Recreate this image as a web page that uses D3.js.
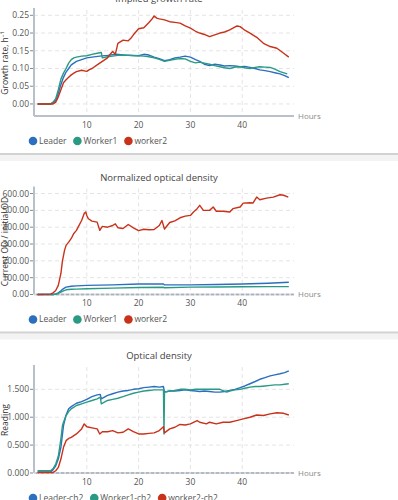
<!DOCTYPE html>
<html>
<head>
<meta charset="utf-8">
<script src="https://cdn.jsdelivr.net/npm/d3@7"></script>
<style>
  body { margin: 0; background: #fff; }
  svg { display: block; font-family: "Open Sans", "Noto Sans", sans-serif; font-weight: 400; }
</style>
</head>
<body>
<svg id="chart" width="398" height="500"></svg>
<script>
// hours / value pairs
var leaderGrowth = [[0.5,0],[3,0],[3.5,0.003],[4,0.01],[4.5,0.03],[5,0.055],[5.5,0.075],[6,0.09],[6.5,0.1],[7,0.11],[8,0.12],[9,0.125],[10,0.13],[11,0.132],[12.5,0.135],[14,0.137],[15.7,0.14],[17,0.138],[19,0.137],[20,0.136],[21,0.14],[22,0.138],[23,0.132],[24,0.128],[25,0.122],[26,0.125],[27,0.13],[28,0.132],[29,0.135],[30,0.132],[31,0.125],[31.8,0.12],[32.7,0.112],[33.7,0.108],[34.7,0.112],[35.7,0.11],[36.6,0.107],[37.6,0.108],[38.6,0.107],[39.6,0.105],[40.5,0.106],[41.5,0.103],[42.5,0.1],[43.4,0.096],[44.4,0.094],[45.4,0.091],[46.3,0.088],[47.3,0.085],[48.2,0.08],[49,0.074]];
var worker1Growth = [[0.5,0],[3,0],[3.5,0.005],[4,0.015],[4.5,0.04],[5,0.07],[5.5,0.087],[6,0.1],[6.5,0.115],[7,0.125],[7.5,0.13],[8,0.132],[9,0.135],[10,0.136],[11,0.14],[12,0.143],[12.8,0.145],[13,0.13],[14,0.133],[15,0.135],[16,0.137],[17,0.138],[18,0.137],[19,0.136],[20,0.136],[21,0.135],[22,0.133],[23,0.13],[24,0.126],[25,0.12],[26,0.123],[27,0.126],[28,0.128],[29,0.127],[30,0.12],[31,0.116],[31.8,0.118],[32.7,0.115],[33.7,0.112],[34.7,0.108],[35.7,0.105],[36.6,0.102],[37.6,0.1],[38.6,0.104],[39.6,0.105],[40.5,0.102],[41.5,0.1],[42.5,0.103],[43.4,0.105],[44.4,0.104],[45.4,0.103],[46.3,0.098],[47.3,0.091],[48.7,0.085]];
var worker2Growth = [[0.5,0],[3.5,0],[4,0.005],[4.5,0.02],[5,0.04],[5.5,0.06],[6,0.068],[6.5,0.075],[7,0.082],[7.5,0.087],[8,0.091],[9,0.095],[10,0.092],[10.5,0.097],[11,0.1],[12,0.11],[13,0.12],[14,0.13],[14.5,0.14],[15,0.148],[15.5,0.14],[16,0.171],[17,0.18],[18,0.178],[18.5,0.185],[19,0.195],[20,0.212],[21,0.215],[22,0.23],[22.5,0.238],[23,0.248],[23.5,0.242],[24,0.24],[25,0.237],[26,0.232],[27,0.23],[28,0.228],[29,0.22],[30,0.214],[31,0.205],[31.8,0.2],[32.7,0.196],[33.7,0.19],[34.7,0.195],[35.7,0.2],[36.6,0.203],[37.6,0.209],[39,0.22],[39.6,0.218],[40.5,0.208],[41.5,0.2],[42.8,0.188],[44.1,0.171],[45.4,0.162],[46.7,0.157],[48,0.143],[49,0.132]];

var leaderNorm = [[0.5,0],[3.5,0],[4,3],[4.5,10],[5,22],[5.5,35],[6,44],[7,49],[8,51],[10,54],[15,57],[20,62],[24.8,63],[25,57],[30,57],[35,59],[40,62],[45,67],[49,73]];
var worker1Norm = [[0.5,0],[3.5,0],[4,2],[4.5,6],[5,14],[5.5,22],[6,28],[7,31],[8,32],[10,34],[15,38],[20,42],[24.8,43],[25,40],[30,44],[35,45],[40,46],[45,47],[49,47]];
var worker2Norm = [[0.5,0],[3,2],[3.5,10],[4,24],[4.5,54],[5,125],[5.3,200],[5.7,262],[6,292],[6.5,311],[7,333],[7.5,363],[8,381],[8.5,411],[9,440],[9.5,482],[9.8,490],[10,470],[10.3,450],[11,436],[12,430],[12.5,381],[13,405],[14,400],[15,410],[15.5,420],[16,397],[17,392],[18,416],[19,396],[20,380],[21,388],[22,385],[23,386],[24,410],[24.5,440],[25,389],[26,428],[27,438],[28,456],[29,466],[30,470],[30.6,490],[31.3,510],[31.8,530],[32.5,500],[33.7,500],[34.4,520],[35,495],[36.3,495],[37.6,490],[38.2,510],[39.6,520],[40.2,543],[41.5,545],[42.1,544],[42.8,579],[43.4,563],[44.7,573],[46,579],[47.3,593],[48,590],[48.9,579]];

var leaderOd = [[0.5,0.02],[3,0.02],[3.5,0.06],[4,0.13],[4.5,0.25],[5,0.46],[5.5,0.85],[6,1.04],[6.5,1.15],[7,1.19],[8,1.25],[9,1.28],[10,1.32],[11,1.37],[12,1.4],[12.6,1.41],[12.8,1.33],[14,1.39],[15,1.42],[16,1.45],[17,1.47],[18,1.48],[19,1.5],[20,1.51],[21,1.53],[22,1.54],[23,1.55],[24,1.54],[24.8,1.55],[25,1.45],[26,1.47],[27,1.47],[28,1.48],[29,1.49],[30,1.48],[31,1.47],[31.8,1.46],[32.7,1.47],[33.7,1.46],[34.7,1.45],[35.7,1.45],[36.6,1.46],[37.6,1.48],[38.6,1.5],[39.6,1.53],[40.5,1.56],[41.5,1.6],[42.5,1.64],[43.4,1.68],[44.4,1.71],[45.4,1.74],[46.3,1.76],[47.3,1.78],[48.2,1.8],[49,1.83]];
var worker1Od = [[0.5,0.04],[3,0.04],[3.5,0.08],[4,0.16],[4.5,0.3],[5,0.61],[5.3,0.85],[5.5,0.91],[6,1.03],[6.5,1.1],[7,1.15],[8,1.21],[9,1.24],[10,1.27],[11,1.3],[12,1.33],[12.6,1.36],[12.8,1.24],[14,1.3],[15,1.32],[16,1.34],[17,1.37],[18,1.4],[19,1.43],[20,1.45],[21,1.47],[22,1.48],[23,1.49],[24,1.49],[24.8,1.49],[24.9,0.7],[25,1.45],[26,1.47],[27,1.48],[28,1.5],[29,1.5],[30,1.49],[31,1.5],[32,1.5],[33.7,1.5],[35.7,1.5],[37,1.45],[37.6,1.47],[38.6,1.49],[39.6,1.5],[40.5,1.52],[41.5,1.54],[42.5,1.55],[43.4,1.55],[44.4,1.56],[45.4,1.57],[46.3,1.58],[47.3,1.58],[48.2,1.59],[49,1.6]];
var worker2Od = [[0.5,0.01],[3.5,0.01],[4,0.04],[4.5,0.1],[5,0.25],[5.5,0.46],[6,0.58],[6.5,0.62],[7,0.64],[8,0.7],[9,0.79],[9.5,0.88],[10,0.83],[11,0.81],[12,0.79],[12.5,0.7],[13,0.74],[14,0.74],[15,0.76],[16,0.72],[17,0.73],[18,0.79],[19,0.74],[20,0.7],[21,0.7],[22,0.71],[23,0.72],[24,0.76],[24.8,0.83],[25,0.72],[26,0.79],[27,0.82],[28,0.87],[29,0.86],[30,0.88],[31.3,0.94],[31.8,0.91],[33.1,0.88],[33.7,0.91],[35,0.88],[36.3,0.91],[37.6,0.91],[38.9,0.94],[40.2,0.97],[41.5,1.0],[42.8,1.04],[44.1,1.03],[45.4,1.06],[46.7,1.08],[48,1.07],[49,1.04]];

var xTicks = [10, 20, 30, 40];
var growthTicks = [0, 0.05, 0.1, 0.15, 0.2, 0.25];
var normTicks = [0, 100, 200, 300, 400, 500, 600];
var odTicks = [0, 0.5, 1, 1.5];
var legendNames = ["Leader", "Worker1", "worker2"];
var legendNamesCh2 = ["Leader-ch2", "Worker1-ch2", "worker2-ch2"];
var colors = ["#2b6fbf", "#2a9a84", "#c8321b"];

var panels = [
  { title: "Implied growth rate", yTitle: "Growth rate, h\u207B\u00B9", domain: [-0.034, 0.265], ticks: growthTicks, fmt: ".2f", series: [leaderGrowth, worker1Growth, worker2Growth], names: legendNames },
  { title: "Normalized optical density", yTitle: "Current OD / initial OD", domain: [0, 630], ticks: normTicks, fmt: ".2f", series: [leaderNorm, worker1Norm, worker2Norm], names: legendNames },
  { title: "Optical density", yTitle: "Reading", domain: [0, 1.9], ticks: odTicks, fmt: ".3f", series: [leaderOd, worker1Od, worker2Od], names: legendNamesCh2 }
];

var svg = d3.select("#chart");
var cardH = 178.5, firstTop = -18;
var x = d3.scaleLinear().domain([0, 50]).range([35, 294]);

panels.forEach(function (p, i) {
  var top = firstTop + i * cardH;
  var g = svg.append("g").attr("transform", "translate(0," + top + ")");
  var plotTop = 28, plotBot = 134;
  var y = d3.scaleLinear().domain(p.domain).range([plotBot, plotTop]);

  // card separator
  g.append("rect").attr("x", 0).attr("y", 173).attr("width", 398).attr("height", 6).attr("fill", "#f3f3f3");
  g.append("rect").attr("x", 0).attr("y", 171).attr("width", 398).attr("height", 2).attr("fill", "#d2d2d2");

  g.append("text").attr("x", 159).attr("y", 17).attr("dy", "0.35em")
    .attr("text-anchor", "middle").attr("font-size", 9.5).attr("fill", "#444").text(p.title);

  // grid
  g.selectAll(".hg").data(p.ticks).enter().append("line")
    .attr("x1", 34).attr("x2", 294).attr("y1", d => y(d)).attr("y2", d => y(d))
    .attr("stroke", "#e4e4e4").attr("stroke-dasharray", "4,3");
  g.selectAll(".vg").data(xTicks).enter().append("line")
    .attr("x1", d => x(d)).attr("x2", d => x(d)).attr("y1", plotTop).attr("y2", plotBot)
    .attr("stroke", "#e4e4e4").attr("stroke-dasharray", "4,3");

  // axes
  g.append("line").attr("x1", 34).attr("x2", 34).attr("y1", plotTop - 2).attr("y2", plotBot)
    .attr("stroke", "#b8c1cb").attr("stroke-width", 2);
  g.append("line").attr("x1", 34).attr("x2", 294).attr("y1", plotBot).attr("y2", plotBot)
    .attr("stroke", p.domain[0] == 0 ? "#d3d8de" : "#b8c1cb").attr("stroke-width", 2);
  if (p.domain[0] == 0) {
    g.append("line").attr("x1", 36).attr("x2", 294).attr("y1", plotBot).attr("y2", plotBot)
      .attr("stroke", "#a8b1bb").attr("stroke-width", 1.5).attr("stroke-dasharray", "3,2");
  }

  var fmt = d3.format(p.fmt);
  var yt = g.selectAll(".yt").data(p.ticks).enter().append("g")
    .attr("transform", d => "translate(0," + y(d) + ")");
  yt.append("line").attr("x1", 30).attr("x2", 33).attr("stroke", "#888");
  yt.append("text").attr("x", 29).attr("dy", "0.35em").attr("text-anchor", "end")
    .attr("font-size", 8.5).attr("fill", "#555").text(d => fmt(d));

  g.selectAll(".xt").data(xTicks).enter().append("text")
    .attr("x", d => x(d)).attr("y", 143).attr("dy", "0.35em").attr("text-anchor", "middle")
    .attr("font-size", 8.5).attr("fill", "#555").text(d => d);
  g.append("text").attr("x", 298).attr("y", plotBot).attr("dy", "0.35em")
    .attr("font-size", 8).attr("fill", "#8a8a8a").text("Hours");

  g.append("text").attr("transform", "translate(8," + (plotTop + plotBot) / 2 + ") rotate(-90)")
    .attr("text-anchor", "middle").attr("font-size", 8.5).attr("fill", "#333").text(p.yTitle);

  // lines
  var line = d3.line().x(d => x(d[0])).y(d => y(d[1]));
  p.series.forEach(function (s, k) {
    g.append("path").datum(s).attr("d", line).attr("fill", "none")
      .attr("stroke", colors[k]).attr("stroke-width", 1.4).attr("stroke-linejoin", "round");
  });

  // legend
  var lx = 33;
  p.names.forEach(function (name, k) {
    g.append("circle").attr("cx", lx).attr("cy", 159).attr("r", 4.3).attr("fill", colors[k]);
    var t = g.append("text").attr("x", lx + 6).attr("y", 159).attr("dy", "0.35em")
      .attr("font-size", 8.5).attr("fill", "#555").text(name);
    lx += 6 + t.node().getComputedTextLength() + 11;
  });
});
</script>
</body>
</html>
